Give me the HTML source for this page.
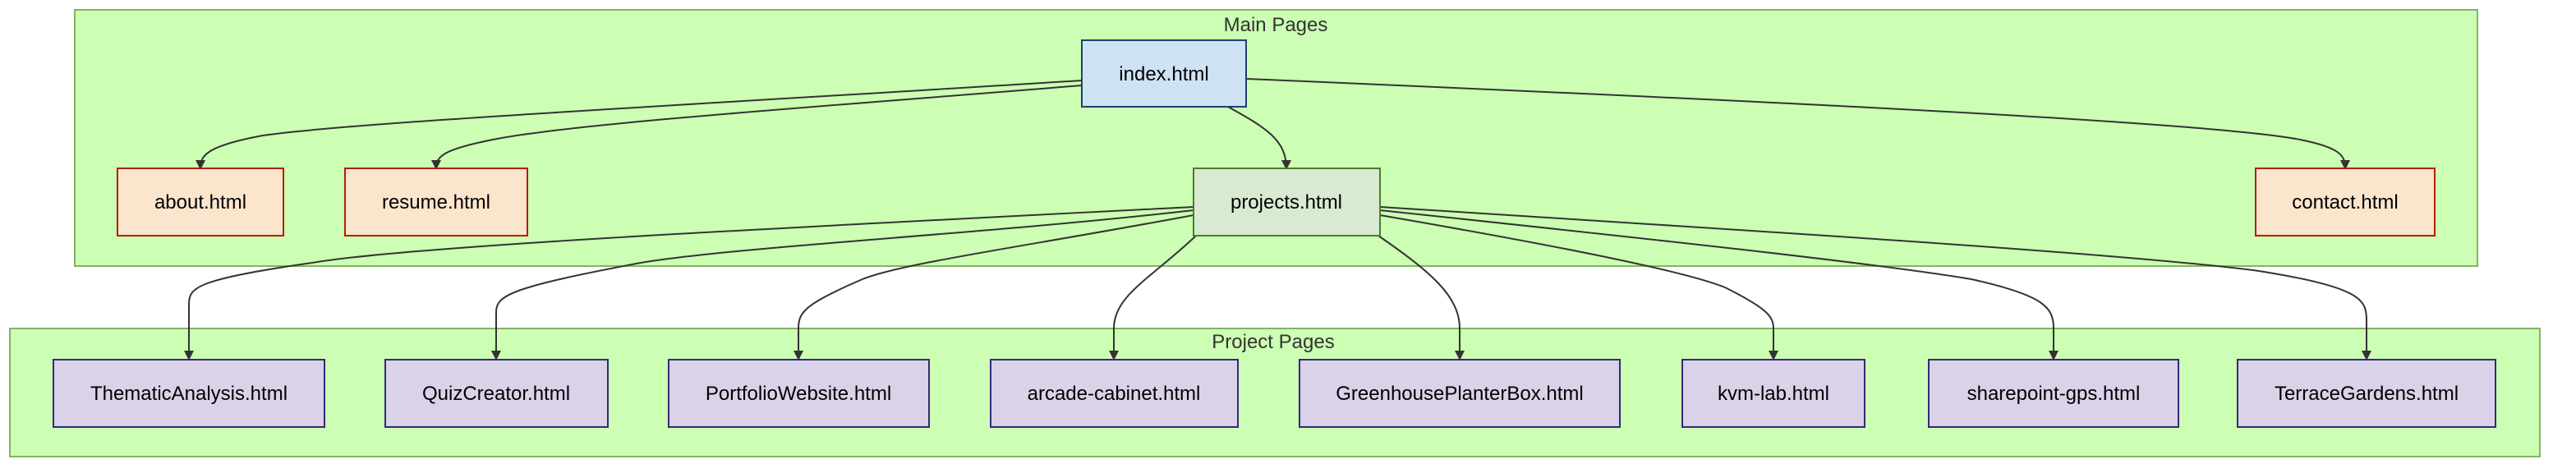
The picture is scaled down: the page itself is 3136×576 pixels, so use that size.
<!DOCTYPE html>
<html><head><meta charset="utf-8"><style>
html,body{margin:0;padding:0;background:#fff;}
svg{display:block;}
text{font-family:"Liberation Sans",Arial,sans-serif;font-size:24px;}
</style></head><body>
<svg width="3136" height="576" viewBox="0 0 3136 576" xmlns="http://www.w3.org/2000/svg">
<defs>
<marker id="a" markerWidth="12" markerHeight="12" refX="10" refY="6" orient="auto" markerUnits="userSpaceOnUse">
<path d="M0,0 L12,6 L0,12 z" fill="#333"/>
</marker>
</defs>
<rect x="91" y="12" width="2925" height="312" fill="#ccffb3" stroke="#82b366" stroke-width="2"/>
<rect x="12" y="400" width="3080" height="156" fill="#ccffb3" stroke="#82b366" stroke-width="2"/>
<text x="1553" y="38" text-anchor="middle" fill="#333">Main Pages</text>
<text x="1550" y="424" text-anchor="middle" fill="#333">Project Pages</text>

<g fill="none" stroke="#333" stroke-width="2" marker-end="url(#a)">
<path d="M1317,98 C800,130 420,150 320,165 C250,178 244,190 244,205"/>
<path d="M1317,104 C1000,130 700,150 600,170 C540,182 531,190 531,205"/>
<path d="M1495,130 C1540,155 1566,170 1566,205"/>
<path d="M1517,96 C2200,125 2700,150 2800,170 C2850,180 2855,190 2855,205"/>

<path d="M1453,252 C900,280 500,300 380,320 C240,340 230,350 230,370 L230,437"/>
<path d="M1453,256 C1200,285 900,300 780,320 C620,350 604,360 604,380 L604,437"/>
<path d="M1453,262 C1250,300 1100,320 1050,340 C980,370 972,380 972,400 L972,437"/>
<path d="M1456,287 C1400,340 1356,360 1356,400 L1356,437"/>
<path d="M1678,287 C1740,330 1777,360 1777,400 L1777,437"/>
<path d="M1680,262 C1900,300 2050,330 2100,350 C2150,375 2159,385 2159,400 L2159,437"/>
<path d="M1680,256 C2000,290 2280,320 2400,340 C2490,360 2500,375 2500,400 L2500,437"/>
<path d="M1680,252 C2200,285 2600,310 2750,330 C2875,350 2881,365 2881,390 L2881,437"/>
</g>

<rect x="1317" y="49" width="200" height="81" fill="#cfe2f3" stroke="#1f3f6e" stroke-width="2"/>
<text x="1417" y="98" text-anchor="middle">index.html</text>
<rect x="1453" y="205" width="227" height="82" fill="#d9ead3" stroke="#4a7f2a" stroke-width="2"/>
<text x="1566" y="254" text-anchor="middle">projects.html</text>

<g fill="#fce5cd" stroke="#b71c0c" stroke-width="2">
<rect x="143" y="205" width="202" height="82"/>
<rect x="420" y="205" width="222" height="82"/>
<rect x="2746" y="205" width="218" height="82"/>
</g>
<text x="244" y="254" text-anchor="middle">about.html</text>
<text x="531" y="254" text-anchor="middle">resume.html</text>
<text x="2855" y="254" text-anchor="middle">contact.html</text>

<g fill="#d9d2e9" stroke="#35287a" stroke-width="2">
<rect x="65" y="438" width="330" height="82"/>
<rect x="469" y="438" width="271" height="82"/>
<rect x="814" y="438" width="317" height="82"/>
<rect x="1206" y="438" width="301" height="82"/>
<rect x="1582" y="438" width="390" height="82"/>
<rect x="2048" y="438" width="222" height="82"/>
<rect x="2348" y="438" width="304" height="82"/>
<rect x="2724" y="438" width="314" height="82"/>
</g>
<g text-anchor="middle">
<text x="230" y="487">ThematicAnalysis.html</text>
<text x="604" y="487">QuizCreator.html</text>
<text x="972" y="487">PortfolioWebsite.html</text>
<text x="1356" y="487">arcade-cabinet.html</text>
<text x="1777" y="487">GreenhousePlanterBox.html</text>
<text x="2159" y="487">kvm-lab.html</text>
<text x="2500" y="487">sharepoint-gps.html</text>
<text x="2881" y="487">TerraceGardens.html</text>
</g>
</svg>
</body></html>
